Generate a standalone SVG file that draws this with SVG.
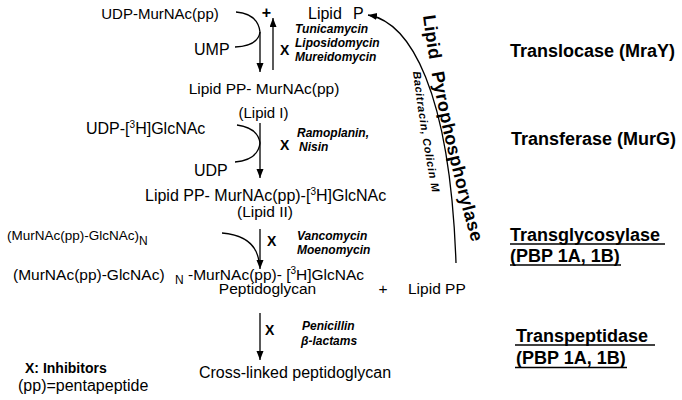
<svg xmlns="http://www.w3.org/2000/svg" width="682" height="400" viewBox="0 0 682 400">
<style>
text{font-family:"Liberation Sans",Arial,sans-serif;fill:#000}
.t{font-size:15.5px}
.i{font-size:12px;font-weight:bold;font-style:italic}
.x{font-size:14px;font-weight:bold}
.h{font-size:18px;font-weight:bold}
.c{fill:none;stroke:#000;stroke-width:1.3}
.u{stroke:#000;stroke-width:1.6}
</style>
<defs>
<marker id="ah" markerUnits="userSpaceOnUse" markerWidth="10" markerHeight="8" refX="9" refY="3.5" orient="auto">
<path d="M0,0 L9,3.5 L0,7 z" fill="#000"/>
</marker>
<path id="lpPath" d="M423,16 Q436,120 474,250"/>
<path id="bcPath" d="M413,72 Q420,130 433,196"/>
</defs>
<rect width="682" height="400" fill="#fff"/>

<g id="connectors">
<path class="c" d="M236,12 Q258,14 260,32 Q258,46 235,47"/>
<path class="c" d="M260,32 L260,72" marker-end="url(#ah)"/>
<path class="c" d="M273,70 L273,18" marker-end="url(#ah)"/>
<path class="c" d="M237,125 Q258,128 260,143 Q258,160 235,162"/>
<path class="c" d="M260,123 L260,178" marker-end="url(#ah)"/>
<path class="c" d="M222,233 Q256,236 259,262"/>
<path class="c" d="M260,229 L260,269" marker-end="url(#ah)"/>
<path class="c" d="M260,313 L260,360" marker-end="url(#ah)"/>
<path class="c" d="M456,263 C450,90 410,22 368,15" marker-end="url(#ah)"/>
</g>

<g id="udp-murnac"><text class="t" x="160" y="19" text-anchor="middle" style="font-size:15px">UDP-MurNAc(pp)</text></g>
<g id="plus-top"><text x="266.5" y="18" text-anchor="middle" style="font-size:16px;font-weight:bold">+</text></g>
<g id="lipid-p"><text x="308" y="19" style="font-size:16px">Lipid<tspan x="353">P</tspan></text></g>
<g id="mray-inhib">
<text class="i" x="295" y="33">Tunicamycin</text>
<text class="i" x="295" y="47">Liposidomycin</text>
<text class="i" x="295" y="61">Mureidomycin</text>
</g>
<g id="ump"><text x="194" y="55" style="font-size:16px">UMP</text></g>
<g id="x1"><text class="x" x="280" y="55">X</text></g>
<g id="lipid-i">
<text class="t" x="264" y="94" text-anchor="middle">Lipid PP- MurNAc(pp)</text>
<text class="t" x="263.5" y="118" text-anchor="middle" style="font-size:15px">(Lipid I)</text>
</g>
<g id="udp-glcnac"><text x="86" y="134" style="font-size:16px">UDP-[<tspan dy="-6" style="font-size:10px">3</tspan><tspan dy="6">H]GlcNAc</tspan></text></g>
<g id="x2"><text class="x" x="280" y="150">X</text></g>
<g id="murg-inhib">
<text class="i" x="297" y="137">Ramoplanin,</text>
<text class="i" x="299" y="151">Nisin</text>
</g>
<g id="udp"><text x="194" y="176" style="font-size:16px">UDP</text></g>
<g id="lipid-ii">
<text x="145" y="201" style="font-size:16px">Lipid PP- MurNAc(pp)-[<tspan dy="-6" style="font-size:10px">3</tspan><tspan dy="6">H]GlcNAc</tspan></text>
<text class="t" x="265" y="217" text-anchor="middle">(Lipid II)</text>
</g>
<g id="glycan-n"><text x="7" y="240" style="font-size:13.5px">(MurNAc(pp)-GlcNAc)<tspan dy="5" style="font-size:12px">N</tspan></text></g>
<g id="x3"><text class="x" x="267" y="246">X</text></g>
<g id="tg-inhib">
<text class="i" x="297" y="240">Vancomycin</text>
<text class="i" x="297" y="254">Moenomycin</text>
</g>
<g id="peptidoglycan">
<text class="t" x="13" y="280">(MurNAc(pp)-GlcNAc)<tspan x="175" dy="4" style="font-size:12px">N</tspan><tspan x="188" dy="-4">-MurNAc(pp)- [</tspan><tspan dy="-6" style="font-size:10px">3</tspan><tspan dy="6">H]GlcNAc</tspan></text>
<text class="t" x="267.5" y="294" text-anchor="middle">Peptidoglycan</text>
</g>
<g id="plus-mid"><text class="t" x="383" y="294" text-anchor="middle">+</text></g>
<g id="lipid-pp"><text class="t" x="408" y="294">Lipid PP</text></g>
<g id="x4"><text class="x" x="265" y="335">X</text></g>
<g id="tp-inhib">
<text class="i" x="302" y="330">Penicillin</text>
<text class="i" x="301" y="345">β-lactams</text>
</g>
<g id="crosslinked"><text x="295" y="378" text-anchor="middle" style="font-size:16px">Cross-linked peptidoglycan</text></g>
<g id="legend">
<text class="x" x="25" y="373">X: Inhibitors</text>
<text x="18" y="391" style="font-size:16px">(pp)=pentapeptide</text>
</g>

<g id="pyrophosphorylase">
<text style="font-size:18px;font-weight:bold;letter-spacing:0.4px"><textPath href="#lpPath">Lipid<tspan dx="7"> Pyrophosphorylase</tspan></textPath></text>
<text style="font-size:11px;font-weight:bold;font-style:italic;letter-spacing:0.7px"><textPath href="#bcPath">Bacitracin, Colicin M</textPath></text>
</g>

<g id="enzymes">
<text class="h" x="510" y="57">Translocase (MraY)</text>
<text class="h" x="511" y="145">Transferase (MurG)</text>
<text class="h" x="510" y="241">Transglycosylase</text>
<line class="u" x1="510" y1="244" x2="665" y2="244"/>
<text class="h" x="510" y="262">(PBP 1A, 1B)</text>
<line class="u" x1="510" y1="265" x2="621" y2="265"/>
<text class="h" x="516" y="342">Transpeptidase</text>
<line class="u" x1="515" y1="345" x2="655" y2="345"/>
<text class="h" x="516" y="364">(PBP 1A, 1B)</text>
<line class="u" x1="515" y1="367.5" x2="627" y2="367.5"/>
</g>
</svg>
